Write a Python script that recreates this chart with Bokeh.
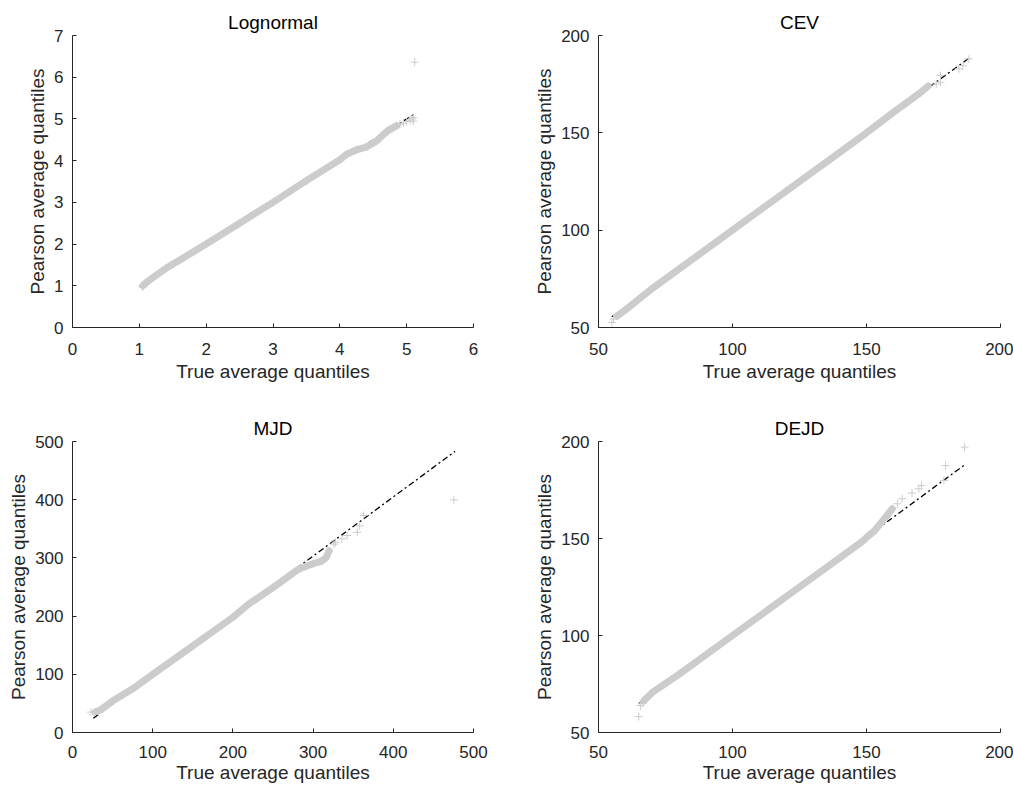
from bokeh.plotting import figure
from bokeh.layouts import column, row
from bokeh.models import Range1d, FixedTicker
from bokeh.embed import file_html
from bokeh.resources import INLINE

# ---------------- data ----------------
# Lognormal
logn_band_x = [1.05, 1.12, 1.4, 2.0, 2.5, 3.0, 3.5, 4.0, 4.1, 4.25, 4.4, 4.55, 4.62, 4.72, 4.85]
logn_band_y = [1.0, 1.1, 1.42, 2.0, 2.5, 3.0, 3.52, 4.02, 4.15, 4.26, 4.33, 4.47, 4.58, 4.72, 4.84]
logn_tail_x = [1.05, 4.9, 4.95, 5.0, 5.05, 5.08, 5.1, 5.1, 5.12]
logn_tail_y = [0.97, 4.87, 4.9, 4.94, 4.97, 5.0, 4.95, 5.03, 6.36]
logn_ref_x = [1.05, 5.12]
logn_ref_y = [1.05, 5.12]

# CEV
cev_band_x = [57, 60, 70, 80, 100, 120, 140, 150, 160, 165, 170, 173]
cev_band_y = [56, 59, 70, 80, 100, 120, 140, 150, 160.5, 165.5, 170.5, 174]
cev_tail_x = [55, 55.6, 176, 177.6, 177.6, 184.5, 186, 188.2]
cev_tail_y = [52.6, 54.3, 175, 176, 179.4, 182.9, 184.5, 188.0]
cev_ref_x = [55, 188.2]
cev_ref_y = [55.5, 188.3]

# MJD
mjd_band_x = [28, 35, 50, 75, 100, 150, 200, 220, 250, 280, 290, 300, 310, 316, 320]
mjd_band_y = [35, 39, 54, 75, 100, 149, 198, 221, 249, 279, 285, 290, 294, 300, 312]
mjd_tail_x = [23, 326, 328, 336, 342.5, 355, 358, 363, 475.5]
mjd_tail_y = [35, 323.6, 327, 332.8, 338.5, 344, 355, 372.9, 399.8]
mjd_ref_x = [26, 477]
mjd_ref_y = [24.6, 483]

# DEJD
dejd_band_x = [67, 70, 80, 100, 125, 148, 150, 153, 156, 159.6]
dejd_band_y = [66.5, 70.5, 80, 100, 125, 148, 150.5, 154, 159, 165.3]
dejd_tail_x = [65, 65.7, 66.5, 161.5, 163.3, 167, 169.5, 170.5, 178.9, 179.5, 186.6]
dejd_tail_y = [58.2, 63.9, 65, 167.9, 170.5, 173.4, 175.6, 177.3, 179.9, 187.6, 197.1]
dejd_ref_x = [65, 186.3]
dejd_ref_y = [64.8, 187.6]

titles = ["Lognormal", "CEV", "MJD", "DEJD"]
x_label = "True average quantiles"
y_label = "Pearson average quantiles"

FONT = "Liberation Sans"
AXC = "#262626"
GRAY = "#cccccc"


def panel(title, xr, yr, xticks, yticks, bx, by, tx, ty, rx, ry,
          w, h, bl, br, bt, bb, tick_so=15, lab_so=3):
    p = figure(width=w, height=h, x_range=Range1d(*xr), y_range=Range1d(*yr),
               output_backend="svg", toolbar_location=None, title=title,
               min_border_left=bl, min_border_right=br,
               min_border_top=bt, min_border_bottom=bb)
    p.outline_line_color = None
    p.xgrid.visible = False
    p.ygrid.visible = False
    p.background_fill_color = "white"
    p.border_fill_color = "white"
    p.title.align = "center"
    p.title.text_font = FONT
    p.title.text_font_size = "19px"
    p.title.text_font_style = "normal"
    p.title.text_color = "#000000"
    p.title.standoff = 5
    p.xaxis.ticker = FixedTicker(ticks=xticks)
    p.yaxis.ticker = FixedTicker(ticks=yticks)
    p.xaxis.axis_label = x_label
    p.yaxis.axis_label = y_label
    for ax in (p.xaxis, p.yaxis):
        ax.axis_line_color = AXC
        ax.axis_line_width = 1
        ax.major_tick_line_color = AXC
        ax.major_tick_in = 4
        ax.major_tick_out = 0
        ax.minor_tick_line_color = None
        ax.major_label_text_font = FONT
        ax.major_label_text_font_size = "17px"
        ax.major_label_text_color = AXC
        ax.axis_label_text_font = FONT
        ax.axis_label_text_font_size = "19px"
        ax.axis_label_text_font_style = "normal"
        ax.axis_label_text_color = AXC
    p.xaxis.major_label_standoff = tick_so
    p.xaxis.axis_label_standoff = lab_so
    p.yaxis.major_label_standoff = 9
    p.yaxis.axis_label_standoff = 3

    p.line(rx, ry, line_color="black", line_width=1.3, line_dash="6 3 2 3")
    p.line(bx, by, line_color=GRAY, line_width=7, line_cap="round", line_join="round")
    p.scatter(bx, by, marker="cross", size=8, line_color=GRAY, line_width=1)
    p.scatter(tx, ty, marker="cross", size=8, line_color=GRAY, line_width=1)
    return p


# column 1: x 0..526 (frame 72..473); column 2: x 526..1013 (frame 598..1000)
# row 1: y 0..388 (frame 35..327); row 2: y 388..786 (frame 441..732)
p1 = panel(titles[0], (0, 6), (0, 7), list(range(0, 7)), list(range(0, 8)),
           logn_band_x, logn_band_y, logn_tail_x, logn_tail_y, logn_ref_x, logn_ref_y,
           526, 388, 72, 53, 35, 61)
p2 = panel(titles[1], (50, 200), (50, 200), [50, 100, 150, 200], [50, 100, 150, 200],
           cev_band_x, cev_band_y, cev_tail_x, cev_tail_y, cev_ref_x, cev_ref_y,
           487, 388, 72, 13, 35, 61)
p3 = panel(titles[2], (0, 500), (0, 500), [0, 100, 200, 300, 400, 500], [0, 100, 200, 300, 400, 500],
           mjd_band_x, mjd_band_y, mjd_tail_x, mjd_tail_y, mjd_ref_x, mjd_ref_y,
           526, 398, 72, 53, 53, 54, tick_so=13, lab_so=1)
p4 = panel(titles[3], (50, 200), (50, 200), [50, 100, 150, 200], [50, 100, 150, 200],
           dejd_band_x, dejd_band_y, dejd_tail_x, dejd_tail_y, dejd_ref_x, dejd_ref_y,
           487, 398, 72, 13, 53, 54, tick_so=13, lab_so=1)

layout = column(row(p1, p2), row(p3, p4))

open("out.html", "w").write(file_html(layout, INLINE))
